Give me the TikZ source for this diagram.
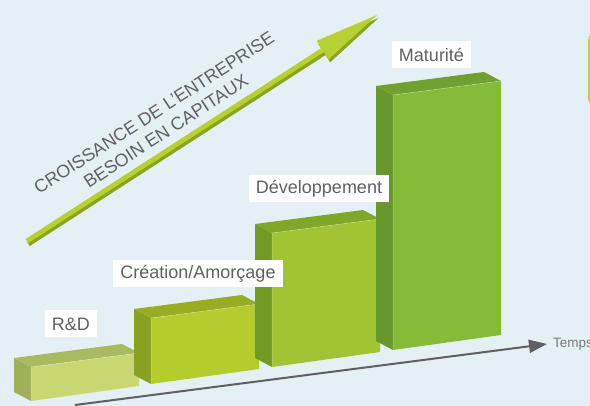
\documentclass[tikz,border=0pt]{standalone}
\usepackage{fontspec}
\setmainfont{Liberation Sans}
\usetikzlibrary{calc,arrows.meta}
\definecolor{fond}{RGB}{228,240,243}
\definecolor{textgrey}{RGB}{96,96,100}
\definecolor{axisgrey}{RGB}{95,95,100}
\definecolor{arrowlight}{RGB}{184,209,50}
\definecolor{arrowdark}{RGB}{138,163,32}
\definecolor{limeedge}{RGB}{190,214,40}
% bar colours: front, top, side
\definecolor{rdfront}{RGB}{201,215,114}
\definecolor{rdtop}{RGB}{170,186,96}
\definecolor{rdside}{RGB}{160,176,90}
\definecolor{creafront}{RGB}{180,204,46}
\definecolor{creatop}{RGB}{152,172,36}
\definecolor{creaside}{RGB}{137,160,32}
\definecolor{devfront}{RGB}{160,196,52}
\definecolor{devtop}{RGB}{128,167,40}
\definecolor{devside}{RGB}{116,154,38}
\definecolor{matfront}{RGB}{134,187,58}
\definecolor{mattop}{RGB}{112,160,47}
\definecolor{matside}{RGB}{103,151,45}

\tikzset{
  etiquette/.style={fill=white, text=textgrey, inner xsep=7pt, inner ysep=0pt,
    minimum height=27pt, font=\fontsize{18}{20}\selectfont},
  titre/.style={text=textgrey, align=center, font=\fontsize{18}{22}\selectfont},
  axe/.style={axisgrey, line width=2pt, -{Triangle[length=18pt,width=13pt]}}
}

\begin{document}
\begin{tikzpicture}[x=1pt,y=-1pt]
\useasboundingbox (0,0) rectangle (590,406);
\clip (0,0) rectangle (590,406);
\fill[fond] (0,0) rectangle (590,406);

% box cut off at the right edge
\draw[limeedge, line width=3pt, rounded corners=9pt] (589.5,32) rectangle (660,107);

% growth arrow
\coordinate (queue) at (27,241);
\coordinate (pointe) at (377,15);
\coordinate (base) at ($(queue)!0.845!(pointe)$);
\foreach \col/\dx/\dy in {arrowdark/1.5/3, arrowlight/0/0}{
  \begin{scope}[transform canvas={shift={(\dx pt,-\dy pt)}}]
  \fill[\col] ($(queue)!2.4pt!90:(pointe)$) -- ($(base)!2.4pt!90:(pointe)$)
    -- ($(base)!11pt!90:(pointe)$) -- (pointe) -- ($(base)!11pt!-90:(pointe)$)
    -- ($(base)!2.4pt!-90:(pointe)$) -- ($(queue)!2.4pt!-90:(pointe)$) -- cycle;
  \end{scope}
}
\node[titre, rotate=33] (croissance) at (160,122) {CROISSANCE DE L'ENTREPRISE\\BESOIN EN CAPITAUX};

% time axis
\coordinate (t0) at (75,405);
\node[anchor=west, text=textgrey!85, inner sep=1pt, font=\fontsize{13.5}{15}\selectfont] (temps) at (552,344) {Temps};
\draw[axe] (t0) -- ([xshift=-5pt]temps.west);

% bars
\foreach \x/\y/\h/\n in {31/367/34/rd, 151/318/66/crea, 272/233/134/dev, 393/95/255/mat}{
  \fill[\n side] (\x-17,\y-9) -- (\x,\y) -- (\x,\y+\h) -- (\x-17,\y+\h-9) -- cycle;
  \fill[\n top] (\x-17,\y-9) -- (\x+91,\y-23) -- (\x+108,\y-14) -- (\x,\y) -- cycle;
  \fill[\n front] (\x,\y) -- (\x+108,\y-14) -- (\x+108,\y+\h-15) -- (\x,\y+\h) -- cycle;
  \draw[white, opacity=0.35, line width=0.5pt] (\x,\y+\h) -- (\x,\y) -- (\x+108,\y-14);
}

% stage labels
\node[etiquette] (rd) at (71,324) {R\&D};
\node[etiquette] (crea) at (198,274) {Création/Amorçage};
\node[etiquette] (dev) at (319,188.5) {Développement};
\node[etiquette] (mat) at (431.5,55) {Maturité};
\end{tikzpicture}
\end{document}
